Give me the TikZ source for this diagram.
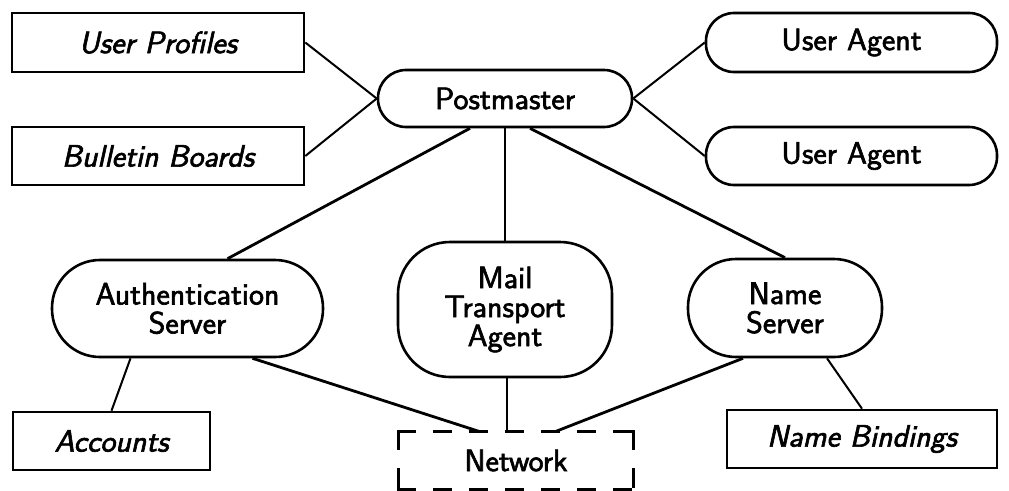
\documentclass[tikz,border=0pt]{standalone}
\usepackage{fontspec}
\setsansfont{Latin Modern Sans}[FakeStretch=1.03, FakeBold=2]
\begin{document}
\begin{tikzpicture}[x=1pt,y=-1pt,
  every node/.style={font=\fontsize{31}{29}\selectfont\sffamily, align=center, inner sep=0pt, line width=2.6pt},
  store/.style={draw, rectangle, font=\fontsize{31}{29}\selectfont\sffamily\itshape},
  proc/.style={draw, rectangle, rounded corners=#1},
  proc/.default=28pt,
  heavy/.style={line width=2.8pt},
  light/.style={line width=2pt},
  netside/.style={line width=2.6pt, line cap=rect}]
\useasboundingbox (0,0) rectangle (1009,490);

% data stores (left and bottom)
\node[store, minimum width=292pt, minimum height=59pt] (up)  at (158,42.5)  {User Profiles};
\node[store, minimum width=292pt, minimum height=58pt] (bb)  at (158,156)   {Bulletin Boards};
\node[store, minimum width=197pt, minimum height=58pt] (acc) at (111.5,441) {Accounts};
\node[store, minimum width=270pt, minimum height=58pt] (nb)  at (862,439)   {Name Bindings};

% processes
\node[proc, minimum width=254pt, minimum height=57pt] (pm)  at (505,98.5)  {Postmaster};
\node[proc, minimum width=291pt, minimum height=59pt] (ua1) at (851.5,42.5) {User Agent};
\node[proc, minimum width=291pt, minimum height=58pt] (ua2) at (851.5,156) {User Agent};
\node[proc=48pt, minimum width=271pt, minimum height=97pt] (auth) at (187.5,308.5) {Authentication\\Server};
\node[proc=52pt, minimum width=214pt, minimum height=135pt] (mta) at (505,309.5) {Mail\\Transport\\Agent};
\node[proc=48pt, minimum width=194pt, minimum height=98pt] (ns) at (785,308) {Name\\Server};

% network (dashed outline drawn side by side)
\node[minimum width=232pt, minimum height=55pt] (net) at (516,460.5) {Network};
\draw[netside, dash pattern=on 16pt off 20pt] (net.north west) -- (net.north east);
\draw[netside, dash pattern=on 16pt off 20pt] (net.south west) -- (net.south east);
\draw[netside, dash pattern=on 17pt off 21pt] (net.north west) -- (net.south west);
\draw[netside, dash pattern=on 17pt off 21pt] (net.north east) -- (net.south east);

% connectors
\draw[light] (up.east) -- (pm.west);
\draw[light] (bb.east) -- (pm.west);
\draw[light] (pm.east) -- (ua1.west);
\draw[light] (pm.east) -- (ua2.west);
\draw[heavy] ([xshift=-35pt]pm.south) -- ([xshift=40pt]auth.north);
\draw[light] (pm.south) -- (mta.north);
\draw[heavy] ([xshift=25pt]pm.south) -- (ns.north);
\draw[light] ([xshift=-57pt]auth.south) -- (acc.north);
\draw[heavy] ([xshift=65pt]auth.south) -- ([xshift=-36pt]net.north);
\draw[light] ([xshift=2pt]mta.south) -- ([xshift=2pt]mta.south |- net.north);
\draw[heavy] ([xshift=-42pt]ns.south) -- ([xshift=39pt]net.north);
\draw[light] ([xshift=42pt]ns.south) -- (nb.north);
\end{tikzpicture}
\end{document}
